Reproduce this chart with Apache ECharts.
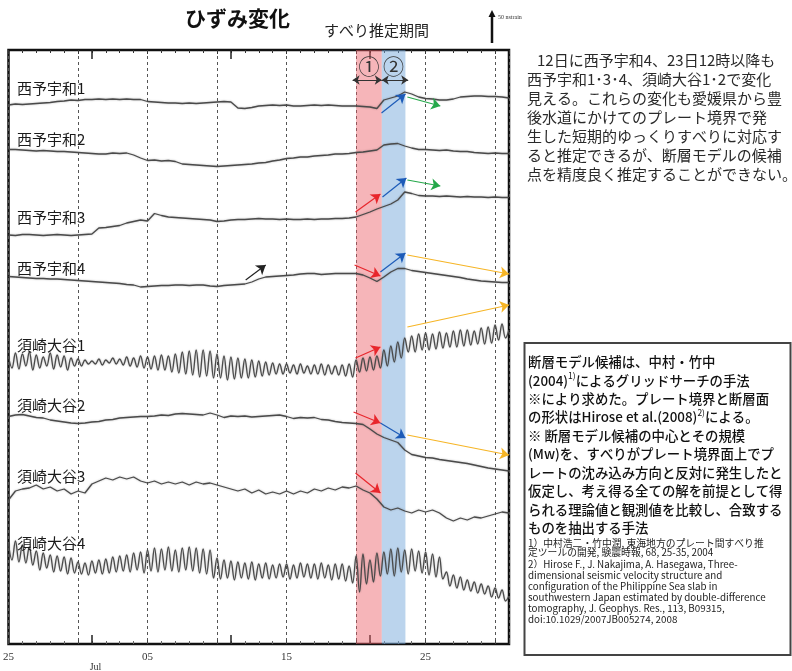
<!DOCTYPE html>
<html>
<head>
<meta charset="utf-8">
<script src="https://cdn.jsdelivr.net/npm/echarts@6/dist/echarts.min.js"></script>
<style>
html, body { margin: 0; padding: 0; background: #fff; }
#chart { width: 792px; height: 671px; }
</style>
</head>
<body>
<div id="chart"></div>
<script>
// x: days since 25 June (0 .. 36); tick labels every 10 days
const dayTickLabels = { 0: '25', 10: '05', 20: '15', 30: '25' };

// Strain traces, stacked; sampled every half day (73 values, days 0..36)
const seiyoUwa1 = [
  539, 540, 539.5, 540, 540.5, 541, 541.5, 542.5, 543, 544,
  543.5, 544.5, 544.5, 545, 544.5, 545, 544.5, 545, 544.5, 544.5,
  542.5, 542, 541.5, 541, 541, 540.5, 541, 540.5, 541, 541.5,
  542, 542.5, 542, 536, 535.5, 536.5, 538, 538.5, 539, 538.5,
  539, 538, 538, 538.5, 539, 538.5, 539, 538.5, 538, 538,
  538, 537.5, 537, 535.5, 544, 546, 548, 552, 550, 547,
  545.5, 545, 544, 544, 545, 547, 547.5, 548, 548, 547.5,
  547.5, 547, 546
];
const seiyoUwa2 = [
  494.5, 494.5, 494, 493.5, 493, 493.5, 493, 492.5, 492.5, 492,
  491.5, 491, 490.5, 490, 490, 491, 490.5, 491, 489, 486,
  483.5, 484, 483, 483.5, 482.5, 480, 479.5, 479, 478.5, 478,
  477.5, 478, 478.5, 479, 479.5, 480, 481, 481.5, 483, 484,
  485.5, 486, 487, 487, 488, 488.5, 489, 490, 490, 490.5,
  491.5, 492, 493, 494, 499, 500, 500.5, 498, 496, 494.5,
  494.5, 494, 493.5, 494, 493, 492.5, 492.5, 491.5, 491, 490.5,
  491, 490.5, 490.5
];
const seiyoUwa3 = [
  409, 408.5, 409.5, 409.5, 409, 408.5, 409, 409.5, 409, 408.5,
  409, 409.5, 410, 416, 416.5, 417.5, 418.5, 421, 422.5, 424,
  423, 430.5, 428.5, 427, 426.5, 426, 425.5, 425, 424.5, 424,
  422.5, 423, 424, 424.5, 424.5, 425, 425.5, 425, 425, 424.5,
  425, 424.5, 424.5, 425, 424.5, 425, 425, 425.5, 425.5, 426,
  427, 429.5, 432, 435, 437.5, 440, 444, 452, 450.5, 448.5,
  448, 448, 447.5, 448, 447.5, 447, 447.5, 447, 447, 446.5,
  447, 446.5, 446.5
];
const seiyoUwa4 = [
  367.5, 367, 366.5, 366, 365.5, 365.5, 365, 365, 364.5, 364,
  363.5, 363, 362.5, 362, 361.5, 361, 360.5, 359.5, 359, 357,
  357.5, 358, 358.5, 358.5, 359, 359, 358.5, 359, 359, 358,
  357.5, 358.5, 359, 359.5, 360, 362, 365, 367, 367.5, 368,
  368.5, 369, 370, 370.5, 370.5, 369.5, 370, 370.5, 370.5, 370.5,
  370.5, 369, 366, 362.5, 367, 372, 375.5, 375.5, 373.5, 372.5,
  371.5, 370.5, 369.5, 368.5, 367.5, 366.5, 365, 364, 363, 362.5,
  362, 361.5, 361.5
];
// Tidal-noise stations, sampled every quarter day (145 values)
const susakiOtani1 = [
  288, 276, 291, 275, 290, 278, 292, 274,
  289, 276, 287, 278, 291, 275, 289, 277,
  288, 274, 286, 278, 285, 278, 284, 280,
  283, 280, 285, 279, 284, 281, 286, 280,
  285, 279, 287, 278, 286, 277, 288, 276,
  287, 275, 288, 274, 289, 274, 288, 272,
  290, 271, 292, 270, 293, 269, 294, 267,
  294, 268, 293, 266, 290, 266, 288, 264,
  287, 265, 286, 266, 285, 266, 284, 267,
  283, 268, 282, 269, 281, 270, 280, 270,
  280, 271, 279, 270, 280, 271, 278, 270,
  279, 270, 280, 269, 279, 270, 278, 269,
  279, 268, 280, 267, 284, 272, 286, 273,
  287, 274, 288, 276, 294, 278, 298, 282,
  302, 286, 306, 292, 308, 292, 310, 294,
  311, 294, 310, 295, 312, 296, 311, 297,
  313, 297, 314, 298, 314, 299, 313, 300,
  316, 300, 317, 301, 319, 304, 320, 306,
  314
];
const susakiOtani2 = [
  227.5, 229, 229.5, 228, 226.5, 226, 224, 223, 222, 221,
  220.5, 221, 222, 222.5, 224, 224.5, 226, 226.5, 227, 227.5,
  227.5, 228, 229, 228.5, 230, 230.5, 230, 229.5, 229, 231,
  229, 226.5, 228, 227.5, 228, 227, 227.5, 228, 228.5, 229,
  227.5, 225.5, 226.5, 226, 226.5, 224.5, 224, 222.5, 221.5, 221,
  220.5, 219.5, 215, 210, 206.5, 204, 201.5, 194, 189.5, 188,
  186.5, 186, 184.5, 183.5, 182.5, 181.5, 180.5, 179, 177.5, 176,
  175, 174, 173
];
const susakiOtani3 = [
  144, 153, 155, 156, 159, 155, 157, 153, 155, 150,
  153, 151, 160, 163, 166, 164, 167, 165, 167, 163,
  161, 163, 160, 162, 160, 162, 159, 162, 160, 161,
  159, 157, 155, 153, 155, 151, 154, 150, 152, 150,
  153, 150, 153, 151, 155, 153, 156, 154, 157, 156,
  158, 154, 151, 145, 137, 134, 136, 133, 131, 134,
  132, 134, 131, 126, 123, 126, 124, 127, 126, 128,
  130, 132, 131
];
const susakiOtani4 = [
  101, 84, 103, 82, 99, 81, 97, 79,
  93, 74, 91, 76, 89, 72, 88, 73,
  87, 70, 86, 71, 82, 70, 81, 69,
  83, 71, 84, 70, 85, 71, 87, 72,
  88, 73, 89, 72, 91, 74, 92, 71,
  94, 73, 96, 72, 95, 74, 97, 73,
  94, 72, 96, 74, 97, 73, 96, 71,
  95, 70, 94, 66, 86, 65, 84, 66,
  83, 64, 82, 66, 81, 65, 82, 64,
  80, 66, 81, 65, 79, 66, 80, 67,
  80, 65, 79, 66, 81, 67, 80, 66,
  80, 65, 81, 66, 79, 64, 80, 65,
  80, 63, 78, 61, 88, 52, 90, 60,
  84, 62, 91, 68, 92, 70, 95, 68,
  96, 72, 94, 70, 95, 73, 93, 71,
  92, 69, 90, 67, 87, 65, 72, 58,
  69, 56, 67, 54, 64, 53, 62, 51,
  60, 50, 58, 47, 56, 46, 54, 43,
  48
];

const stationNames = ['西予宇和1', '西予宇和2', '西予宇和3', '西予宇和4', '須崎大谷1', '須崎大谷2', '須崎大谷3', '須崎大谷4'];
const stationSeries = [seiyoUwa1, seiyoUwa2, seiyoUwa3, seiyoUwa4, susakiOtani1, susakiOtani2, susakiOtani3, susakiOtani4];
const sampleStep = [0.5, 0.5, 0.5, 0.5, 0.25, 0.5, 0.5, 0.25];

// Estimated slip periods (days since 25 June)
const slipPeriod1 = [25, 26.85];
const slipPeriod2 = [26.85, 28.55];

// Annotation arrows: [day, value] -> [day, value]
const slipArrows = [
  { from: [26.83, 531], to: [28.55, 550], color: '#1d5bb8' },
  { from: [28.69, 547], to: [31.06, 538], color: '#25a84a' },
  { from: [24.96, 432], to: [26.75, 450], color: '#e8262c' },
  { from: [26.9, 447], to: [28.62, 466], color: '#1d5bb8' },
  { from: [28.69, 464], to: [31.06, 458], color: '#25a84a' },
  { from: [17.06, 364], to: [18.5, 379], color: '#222222' },
  { from: [24.89, 379], to: [26.75, 368], color: '#e8262c' },
  { from: [26.75, 372], to: [28.55, 391], color: '#1d5bb8' },
  { from: [28.69, 389], to: [36.0, 370], color: '#f6b526' },
  { from: [28.69, 317], to: [36.0, 339], color: '#f6b526' },
  { from: [24.96, 286], to: [26.75, 297], color: '#e8262c' },
  { from: [24.82, 232], to: [26.75, 221], color: '#e8262c' },
  { from: [26.75, 221], to: [28.55, 206], color: '#1d5bb8' },
  { from: [28.69, 209], to: [36.0, 189], color: '#f6b526' },
  { from: [24.96, 171], to: [26.75, 151], color: '#e8262c' }
];

const commentLines = [
  '12日に西予宇和4、23日12時以降も',
  '西予宇和1･3･4、須崎大谷1･2で変化',
  '見える。これらの変化も愛媛県から豊',
  '後水道にかけてのプレート境界で発',
  '生した短期的ゆっくりすべりに対応す',
  'ると推定できるが、断層モデルの候補',
  '点を精度良く推定することができない。'
];
const noteLines = [
  '断層モデル候補は、中村・竹中',
  '(2004){s|1)}によるグリッドサーチの手法',
  '※により求めた。プレート境界と断層面',
  'の形状はHirose et al.(2008){s|2)}による。',
  '※ 断層モデル候補の中心とその規模',
  '(Mw)を、すべりがプレート境界面上でプ',
  'レートの沈み込み方向と反対に発生したと',
  '仮定し、考え得る全ての解を前提として得',
  'られる理論値と観測値を比較し、合致する',
  'ものを抽出する手法'
];
const referenceLines = [
  '1）中村浩二・竹中潤, 東海地方のプレート間すべり推',
  '定ツールの開発, 験震時報, 68, 25-35, 2004',
  '2）Hirose F., J. Nakajima, A. Hasegawa, Three-',
  'dimensional seismic velocity structure and',
  'configuration of the Philippine Sea slab in',
  'southwestern Japan estimated by double-difference',
  'tomography, J. Geophys. Res., 113, B09315,',
  'doi:10.1029/2007JB005274, 2008'
];

const JP = '"Noto Sans CJK JP", sans-serif';
const chart = echarts.init(document.getElementById('chart'), null, { renderer: 'canvas' });

const traceSeries = stationSeries.map((vals, k) => ({
  type: 'line',
  name: stationNames[k],
  data: vals.map((v, i) => [i * sampleStep[k], v]),
  symbol: 'none',
  showSymbol: false,
  silent: true,
  smooth: sampleStep[k] < 0.5 ? 0.4 : false,
  z: 3,
  lineStyle: {
    color: '#4a4a4a', width: 1.3,
    shadowBlur: 2, shadowColor: 'rgba(0,0,0,0.3)'
  }
}));

const bandSeries = {
  type: 'line',
  data: [],
  silent: true,
  z: 1,
  markArea: {
    silent: true,
    label: { show: true, position: 'insideTop', distance: 6, fontSize: 21, color: '#333', fontFamily: JP },
    data: [
      [{ xAxis: slipPeriod1[0], name: '①', itemStyle: { color: 'rgba(236,90,100,0.45)' } }, { xAxis: slipPeriod1[1] }],
      [{ xAxis: slipPeriod2[0], name: '②', itemStyle: { color: 'rgba(120,170,220,0.5)' } }, { xAxis: slipPeriod2[1] }]
    ]
  },
  markLine: {
    silent: true,
    symbol: ['arrow', 'arrow'],
    symbolSize: 7,
    label: { show: false },
    lineStyle: { color: '#333', width: 1, type: 'solid' },
    data: [
      [{ coord: [24.75, 564] }, { coord: [slipPeriod1[1], 564] }],
      [{ coord: [slipPeriod2[0], 564] }, { coord: [28.75, 564] }]
    ]
  }
};

const arrowSeries = {
  type: 'line',
  data: [],
  silent: true,
  clip: false,
  z: 5,
  markLine: {
    silent: true,
    symbol: ['none', 'arrow'],
    symbolSize: 9,
    label: { show: false },
    data: slipArrows.map(a => [
      { coord: a.from, lineStyle: { color: a.color, width: 1.2, type: 'solid' }, itemStyle: { color: a.color } },
      { coord: a.to }
    ])
  }
};

const axisBase = { type: 'value', min: 0, max: 36, interval: 5, gridIndex: 0 };

const graphics = [];
graphics.push({ type: 'text', x: 185, y: 18, z: 100,
  style: { text: 'ひずみ変化', fontFamily: JP, fontSize: 21, fontWeight: 'bold', fill: '#111', verticalAlign: 'middle' } });
graphics.push({ type: 'text', x: 324, y: 30, z: 100,
  style: { text: 'すべり推定期間', fontFamily: JP, fontSize: 15, fill: '#222', verticalAlign: 'middle' } });
// scale bar
graphics.push({ type: 'line', z: 100, shape: { x1: 492, y1: 43, x2: 492, y2: 16 }, style: { stroke: '#111', lineWidth: 2.5 } });
graphics.push({ type: 'polygon', z: 100, shape: { points: [[488.5, 17], [495.5, 17], [492, 10]] }, style: { fill: '#111' } });
graphics.push({ type: 'text', x: 498, y: 17, z: 100,
  style: { text: '50 nstrain', fontFamily: '"Liberation Serif", serif', fontSize: 6, fill: '#333', verticalAlign: 'middle' } });
graphics.push({ type: 'text', x: 95.5, y: 667, z: 100,
  style: { text: 'Jul', fontFamily: '"Liberation Serif", serif', fontSize: 10, fill: '#333', align: 'center', verticalAlign: 'middle' } });

const labelY = [88, 139, 217, 268, 345, 405, 476, 543];
stationNames.forEach((n, k) => {
  graphics.push({ type: 'text', x: 17, y: labelY[k], z: 100,
    style: { text: n, fontFamily: JP, fontSize: 15, fill: '#1a1a1a', verticalAlign: 'middle' } });
});

commentLines.forEach((t, i) => {
  graphics.push({ type: 'text', x: i === 0 ? 537 : 527, y: 60 + 19 * i, z: 100,
    style: { text: t, fontFamily: JP, fontSize: 15, fill: '#2a2a2a', verticalAlign: 'middle' } });
});

graphics.push({ type: 'rect', z: 100, shape: { x: 524.5, y: 343, width: 266, height: 312 },
  style: { fill: 'none', stroke: '#444', lineWidth: 2 } });
noteLines.forEach((t, i) => {
  graphics.push({ type: 'text', x: 528, y: 362 + 18.45 * i, z: 100,
    style: { text: t, fontFamily: JP, fontSize: 13.4, fontWeight: 500, fill: '#111', verticalAlign: 'middle',
      lineHeight: 18,
      rich: { s: { fontSize: 8.5, fontFamily: JP, fill: '#111', verticalAlign: 'top', lineHeight: 18 } } } });
});
const refY = [543, 552.5, 564.5, 575.5, 586.5, 597.5, 608.5, 619];
referenceLines.forEach((t, i) => {
  graphics.push({ type: 'text', x: 528, y: refY[i], z: 100,
    style: { text: t, fontFamily: JP, fontSize: 9.8, fill: '#222', verticalAlign: 'middle' } });
});

chart.setOption({
  animation: false,
  backgroundColor: '#fff',
  grid: { left: 7.5, top: 50, right: 283, bottom: 27, show: true, borderColor: '#111', borderWidth: 2.5, backgroundColor: 'transparent' },
  xAxis: [
    Object.assign({}, axisBase, {
      position: 'bottom',
      axisLine: { show: false },
      axisTick: { show: true, inside: true, length: 4, lineStyle: { color: '#444' } },
      minorTick: { show: true, splitNumber: 5, length: 3, lineStyle: { color: '#666' } },
      splitLine: { show: true, lineStyle: { color: '#555', width: 1, type: [3, 3] } },
      axisLabel: { formatter: v => dayTickLabels[v] || '', fontFamily: '"Liberation Serif", serif', fontSize: 11, color: '#333', margin: 8 }
    }),
    Object.assign({}, axisBase, {
      position: 'top',
      axisLine: { show: false },
      axisTick: { show: true, inside: true, length: 4, lineStyle: { color: '#333' } },
      minorTick: { show: true, splitNumber: 5, length: 3, lineStyle: { color: '#333' } },
      splitLine: { show: false },
      axisLabel: { show: false }
    }),
    Object.assign({}, axisBase, {
      position: 'top',
      axisLine: { show: false },
      axisTick: { show: true, inside: true, length: 9, customValues: [6, 16, 26], lineStyle: { color: '#222', width: 1.5 } },
      splitLine: { show: false },
      axisLabel: { show: false }
    }),
    Object.assign({}, axisBase, {
      position: 'bottom',
      axisLine: { show: false },
      axisTick: { show: true, inside: true, length: 9, customValues: [6, 16, 26], lineStyle: { color: '#222', width: 1.5 } },
      splitLine: { show: false },
      axisLabel: { show: false }
    })
  ],
  yAxis: { type: 'value', min: 0, max: 594, show: false },
  series: [bandSeries].concat(traceSeries, [arrowSeries]),
  graphic: { elements: graphics }
});
</script>
</body>
</html>
